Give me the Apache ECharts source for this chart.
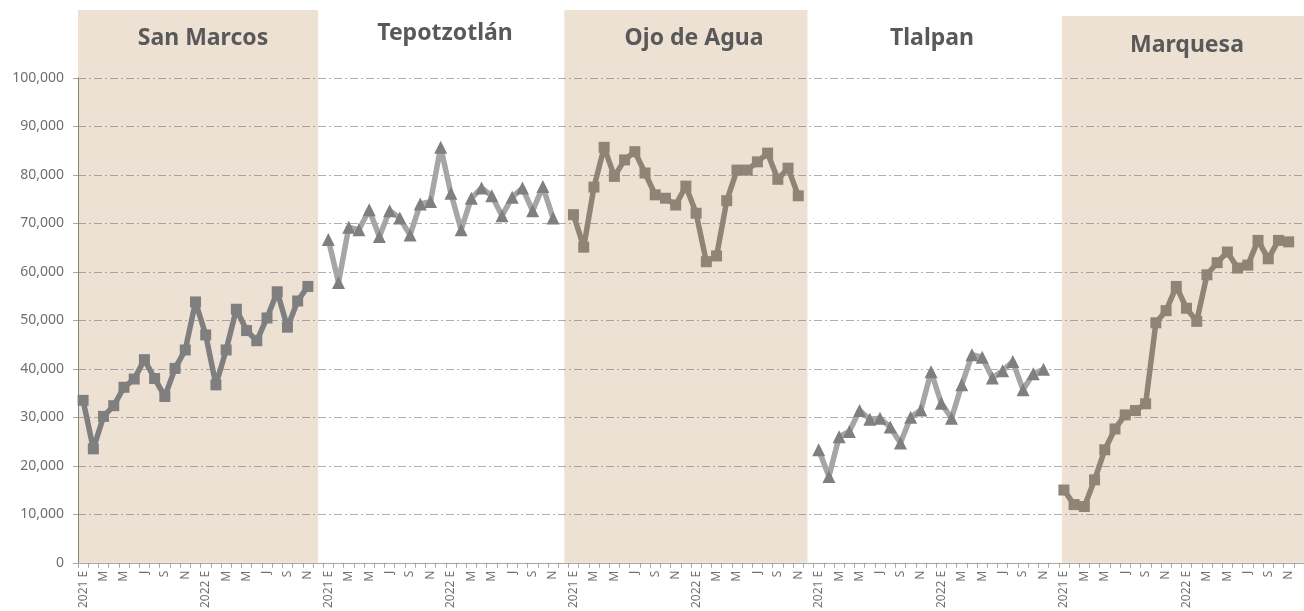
<!DOCTYPE html>
<html>
<head>
<meta charset="utf-8">
<script src="https://cdn.jsdelivr.net/npm/echarts@6/dist/echarts.min.js"></script>
<style>
  html, body { margin: 0; padding: 0; background: #fff; }
  #chart { width: 1304px; height: 611px; }
</style>
</head>
<body>
<div id="chart"></div>
<script>
// meses (E = enero ... D = diciembre)
const months = ['E', 'F', 'M', 'A', 'M', 'J', 'J', 'A', 'S', 'O', 'N', 'D'];
const years = ['2021', '2022'];
const stores = ['San Marcos', 'Tepotzotlán', 'Ojo de Agua', 'Tlalpan', 'Marquesa'];

// ene 2021 - nov 2022
const sanMarcos = [33500, 23500, 30200, 32400, 36200, 37900, 41900, 38000, 34300, 40100, 43900, 53800,
  47000, 36700, 43900, 52300, 47900, 45800, 50500, 55900, 48600, 54000, 57000];
const tepotzotlan = [66700, 57800, 69200, 68700, 72800, 67300, 72600, 71100, 67600, 74000, 74500, 85700,
  76200, 68700, 75200, 77300, 75700, 71600, 75400, 77300, 72600, 77600, 71100];
const ojoDeAgua = [71800, 65100, 77500, 85700, 79700, 83100, 84800, 80400, 75900, 75200, 73800, 77700,
  72100, 62100, 63300, 74700, 81000, 81000, 82700, 84500, 79100, 81400, 75700];
const tlalpan = [23300, 17800, 26000, 27100, 31400, 29600, 29800, 28000, 24700, 30000, 31500, 39400,
  32900, 29800, 36700, 42900, 42400, 38100, 39600, 41500, 35700, 39000, 39900];
const marquesa = [15000, 12000, 11600, 17100, 23300, 27600, 30500, 31400, 32800, 49500, 52000, 57000,
  52500, 49800, 59400, 61900, 64100, 60800, 61400, 66500, 62700, 66500, 66200];

const seriesValues = [sanMarcos, tepotzotlan, ojoDeAgua, tlalpan, marquesa];
const perPanel = 24;

// categorías: 24 meses por tienda
const categories = [];
stores.forEach(() => {
  years.forEach(y => {
    months.forEach((m, i) => categories.push(i === 0 ? y + ' ' + m : m));
  });
});

// fondo beige de tiendas alternas (en unidades de categoría)
const bands = [
  {start: -0.5, end: 23, lift: 68},
  {start: 47.1, end: 70.9, lift: 68},
  {start: 95.8, end: 119.5, lift: 62}
];

const titleDefs = [
  {left: 198, top: 22},
  {left: 440, top: 17},
  {left: 689, top: 22},
  {left: 927, top: 22},
  {left: 1182, top: 29}
];

const styles = [
  {line: '#7f7f7f', marker: '#7f7f7f', symbol: 'rect', size: 11},
  {line: '#a6a6a6', marker: '#7f7f7f', symbol: 'triangle', size: 13},
  {line: '#8f8476', marker: '#8f8476', symbol: 'rect', size: 11},
  {line: '#a6a6a6', marker: '#7f7f7f', symbol: 'triangle', size: 13},
  {line: '#8f8476', marker: '#8f8476', symbol: 'rect', size: 11}
];

const chart = echarts.init(document.getElementById('chart'));

const lineSeries = seriesValues.map((vals, s) => {
  const data = new Array(categories.length).fill(null);
  vals.forEach((v, i) => { data[s * perPanel + i] = v; });
  return {
    name: stores[s],
    type: 'line',
    data: data,
    connectNulls: false,
    symbol: styles[s].symbol,
    symbolSize: styles[s].size,
    showAllSymbol: true,
    lineStyle: {color: styles[s].line, width: 5.5},
    itemStyle: {color: styles[s].marker},
    z: 3
  };
});

const option = {
  animation: false,
  backgroundColor: '#fff',
  title: stores.map((name, i) => ({
    text: name,
    left: titleDefs[i].left,
    top: titleDefs[i].top,
    textAlign: 'center',
    textStyle: {
      color: '#595959',
      fontFamily: 'Noto Sans',
      fontWeight: 'bold',
      fontSize: 23
    }
  })),
  grid: {left: 78, right: 0, top: 78, bottom: 48},
  xAxis: {
    type: 'category',
    data: categories,
    boundaryGap: true,
    axisLine: {lineStyle: {color: '#a6a6a6', width: 1}},
    axisTick: {show: true, interval: 0, length: 5, lineStyle: {color: '#a6a6a6'}},
    axisLabel: {
      interval: 1,
      rotate: 90,
      margin: 8,
      color: '#737373',
      fontFamily: 'Noto Sans',
      fontSize: 12
    },
    splitLine: {show: false}
  },
  yAxis: {
    type: 'value',
    min: 0,
    max: 100000,
    interval: 10000,
    axisLine: {show: true, lineStyle: {color: '#8a8178', width: 1}},
    axisTick: {show: true, length: 5, lineStyle: {color: '#a6a6a6'}},
    axisLabel: {
      margin: 14,
      color: '#6f6f6f',
      fontFamily: 'Noto Sans',
      fontSize: 14,
      formatter: v => v.toLocaleString('en-US')
    },
    splitLine: {
      show: true,
      lineStyle: {color: 'rgba(120,120,120,0.6)', width: 1.2, type: [8, 3, 2, 3]}
    }
  },
  series: [
    {
      name: 'fondo',
      type: 'custom',
      silent: true,
      z: -1,
      clip: false,
      data: bands.map((b, i) => [i, 0]),
      renderItem: (params, api) => {
        const b = bands[params.dataIndex];
        const w = api.size([1, 0])[0];
        const origin = api.coord([0, 0]);
        const top = api.coord([0, 100000])[1] - b.lift;
        const x0 = origin[0] + b.start * w;
        const x1 = origin[0] + b.end * w;
        return {
          type: 'rect',
          shape: {x: x0, y: top, width: x1 - x0, height: origin[1] - top},
          style: {fill: '#ede1d4'}
        };
      }
    },
    ...lineSeries
  ]
};

chart.setOption(option);
</script>
</body>
</html>
